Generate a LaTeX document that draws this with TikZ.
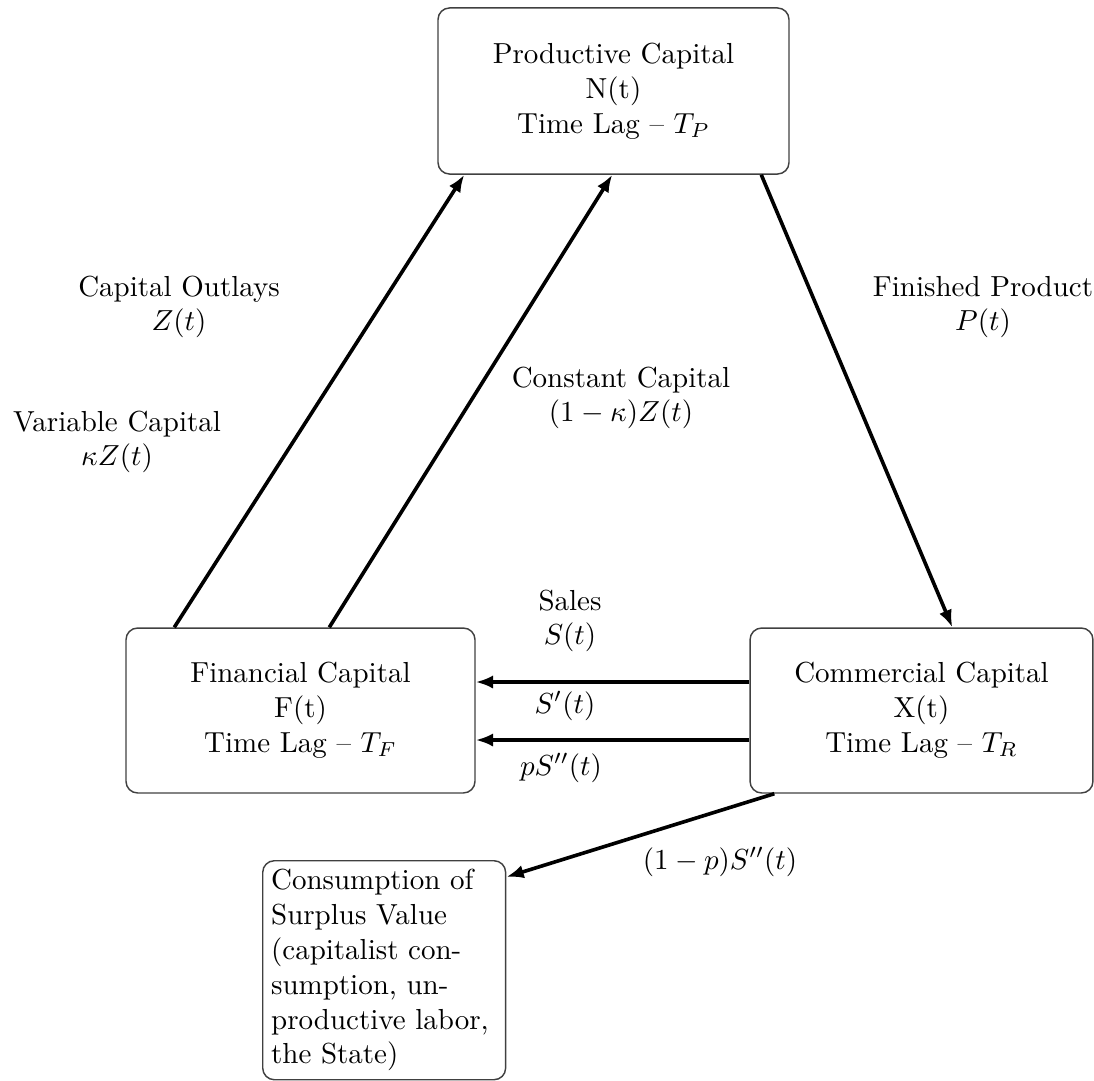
\documentclass[tikz,border=0pt]{standalone}
\usetikzlibrary{calc,arrows.meta}
\begin{document}
\begin{tikzpicture}[x=0.345pt,y=-0.345pt,
  capbox/.style={draw=black!75, line width=0.5pt, rounded corners=4pt, align=center, inner sep=0pt},
  flow/.style={line width=1.25pt, -{Latex[length=6pt,width=4.6pt]}},
  lbl/.style={align=center, inner sep=0pt}]
\useasboundingbox (0,0) rectangle (1094,1080);
\node[capbox, minimum width=121.1pt, minimum height=57.3pt] (prod) at (613.5,91) {Productive Capital\\N(t)\\Time Lag -- $T_P$};
\node[capbox, minimum width=120.4pt, minimum height=56.9pt] (fin) at (300.5,710.5) {Financial Capital\\F(t)\\Time Lag -- $T_F$};
\node[capbox, minimum width=118.3pt, minimum height=56.9pt] (com) at (921.5,710.5) {Commercial Capital\\X(t)\\Time Lag -- $T_R$};
\node[capbox, anchor=north west, align=left, text width=78pt, minimum width=83.8pt, minimum height=75.2pt, inner xsep=2.9pt, inner ysep=3pt] (cons) at (262,860) {Consumption of\\Surplus Value\\(capitalist con-\\sumption, un-\\productive labor,\\the State)};

\draw[flow] ($(fin.north west)+(49,0)$) -- ($(prod.south west)+(27,0)$);
\draw[flow] ($(fin.north west)+(204,0)$) -- ($(prod.south west)+(175,0)$);
\draw[flow] ($(prod.south west)+(324,0)$) -- ($(com.north west)+(203,0)$);
\draw[flow] ($(com.west)+(0,-28.5)$) -- ($(fin.east)+(0,-28.5)$);
\draw[flow] ($(com.west)+(0,29.5)$) -- ($(fin.east)+(0,29.5)$);
\draw[flow] ($(com.south west)+(25,0)$) -- ($(cons.north east)+(0,17)$);

\node[lbl] (lco) at (179,307) {Capital Outlays\\$Z(t)$};
\node[lbl] (lvc) at (117,442) {Variable Capital\\$\kappa Z(t)$};
\node[lbl] (lcc) at (621,398) {Constant Capital\\$(1-\kappa)Z(t)$};
\node[lbl] (lfp) at (983,307) {Finished Product\\$P(t)$};
\node[lbl] (lsa) at (570,621) {Sales\\$S(t)$};
\node[lbl] (ls1) at (565,706) {$S'(t)$};
\node[lbl] (ls2) at (561,768) {$pS''(t)$};
\node[lbl] (ls3) at (720,862) {$(1-p)S''(t)$};
\end{tikzpicture}
\end{document}
